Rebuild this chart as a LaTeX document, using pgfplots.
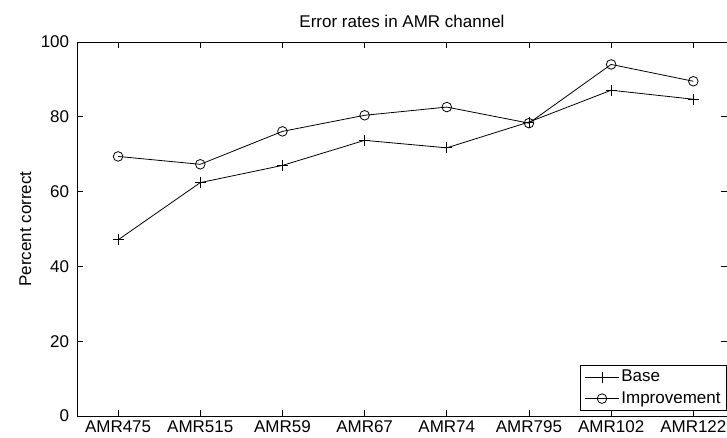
\documentclass[border=0pt]{standalone}
\usepackage{fontspec}
\setmainfont{Liberation Sans}
\usepackage{pgfplots}
\pgfplotsset{compat=1.18}
\begin{document}
\fontsize{17}{20}\selectfont
\begin{tikzpicture}
\path[use as bounding box] (-77pt,-22pt) rectangle (650pt,416pt);
\begin{axis}[
  at={(0pt,0pt)}, anchor=south west,
  scale only axis,
  width=650pt, height=374pt,
  xmin=0.5, xmax=8.41,
  ymin=0, ymax=100,
  xtick={1,2,3,4,5,6,7,8},
  xticklabels={AMR475,AMR515,AMR59,AMR67,AMR74,AMR795,AMR102,AMR122},
  ytick={0,20,40,60,80,100},
  tick align=inside,
  major tick length=6pt,
  tick style={black, line width=0.8pt},
  axis line style={line width=0.8pt},
  /pgf/number format/assume math mode=true,
  tick label style={font=\fontsize{17}{20}\selectfont},
  xticklabel style={yshift=1pt},
  yticklabel style={xshift=-2pt},
  title={Error rates in AMR channel},
  title style={font=\fontsize{17}{20}\selectfont, yshift=2pt},
  ylabel={Percent correct},
  ylabel style={font=\fontsize{17}{20}\selectfont, yshift=-2pt},
  legend style={at={(1,0.013)}, anchor=south east, draw=black, line width=0.8pt,
    font=\fontsize{17}{20}\selectfont, row sep=3pt, inner xsep=4pt, inner ysep=3pt},
  legend cell align=left,
  legend image code/.code={\draw[#1, mark repeat=2, mark phase=2] plot coordinates {(0pt,0pt) (17pt,0pt) (34pt,0pt)};},
]
\addplot[black, line width=0.8pt, mark=+, mark size=5.5pt, mark options={line width=0.8pt}]
  coordinates {(1,47.1) (2,62.4) (3,67.0) (4,73.7) (5,71.7) (6,78.6) (7,87.1) (8,84.7)};
\addlegendentry{Base}
\addplot[black, line width=0.8pt, mark=o, mark size=4.8pt, mark options={line width=0.8pt}]
  coordinates {(1,69.4) (2,67.3) (3,76.1) (4,80.4) (5,82.6) (6,78.3) (7,94.0) (8,89.5)};
\addlegendentry{Improvement}
\end{axis}
\end{tikzpicture}
\end{document}
